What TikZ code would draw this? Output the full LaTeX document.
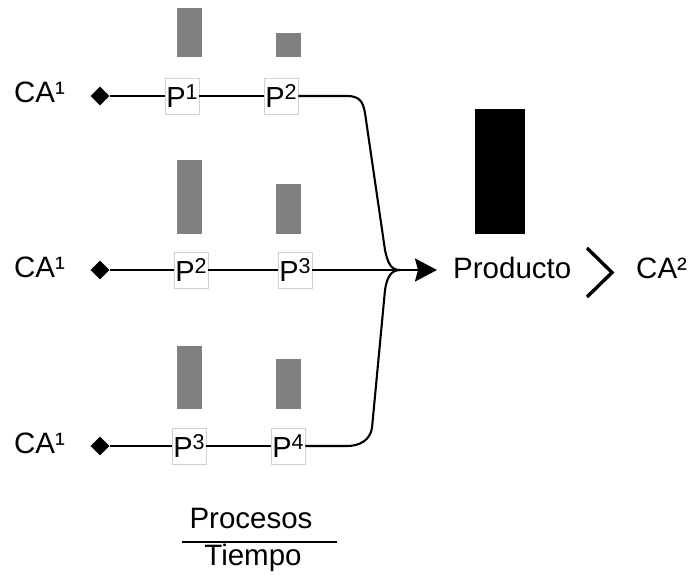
\documentclass[tikz,border=0pt]{standalone}
\usepackage{fontspec}
\setmainfont{Liberation Sans}
\usetikzlibrary{shapes.geometric,arrows.meta}
\newcommand\psup[1]{\raisebox{8.5pt}{\fontsize{21.5}{21.5}\selectfont #1}}
\begin{document}
\begin{tikzpicture}[x=1pt,y=-1pt,
  txt/.style={font=\fontsize{29.5}{34}\selectfont, inner sep=0pt, anchor=base west},
  pbox/.style={draw=black!18, line width=0.6pt, fill=white, minimum width=34pt, minimum height=36pt, inner sep=0pt, font=\fontsize{29}{34}\selectfont},
  dmd/.style={diamond, fill=black, inner sep=0pt, minimum width=19pt, minimum height=19pt},
  ln/.style={line width=2.1pt},
  bar/.style={fill=black!50}]
\useasboundingbox (0,0) rectangle (689,575);

% gray bars
\fill[bar] (177,8) rectangle (202,57);
\fill[bar] (276,33) rectangle (301,57);
\fill[bar] (177,160) rectangle (202,234);
\fill[bar] (276,184) rectangle (301,234);
\fill[bar] (177,346) rectangle (202,409);
\fill[bar] (276,359) rectangle (301,409);
% product bar
\fill[black] (475,109) rectangle (525,234);

% left labels
\node[txt] (ca1) at (14,103) {CA¹};
\node[txt] (ca2) at (14,277) {CA¹};
\node[txt] (ca3) at (14,453) {CA¹};

% diamonds
\node[dmd] (d1) at (100,96) {};
\node[dmd] (d2) at (100,270) {};
\node[dmd] (d3) at (100,446) {};

% process boxes
\node[pbox] (b11) at (182,96) {P\psup{1}};
\node[pbox] (b12) at (281,96) {P\psup{2}};
\node[pbox] (b21) at (191,270) {P\psup{2}};
\node[pbox] (b22) at (295,270) {P\psup{3}};
\node[pbox] (b31) at (189,446) {P\psup{3}};
\node[pbox] (b32) at (288,446) {P\psup{4}};

% right side
\node[txt] (prod) at (453,279) {Producto};
\node[txt] (ca2r) at (636,279) {CA²};
\coordinate (m) at (400,270);
\coordinate (tip) at (437,270);

% connectors
\draw[ln] (d1) -- (b11);
\draw[ln] (b11) -- (b12);
\draw[ln] (d2) -- (b21);
\draw[ln] (b21) -- (b22);
\draw[ln] (d3) -- (b31);
\draw[ln] (b31) -- (b32);
\draw[ln,-{Stealth[length=22pt,width=23pt,inset=3pt]}] (b22) -- (tip);
\draw[ln] (b12) -- (347,96) .. controls (360,96) and (363,102) .. (365,113) -- (385,250) .. controls (388,265) and (392,270) .. (m);
\draw[ln] (b32) -- (347,446) .. controls (360,446) and (370,440) .. (372,428) -- (385,290) .. controls (387,276) and (392,270) .. (m);

% chevron
\draw[line width=3.4pt] (587,248) -- (612,272.5) -- (587,297);

% fraction
\node[txt, anchor=base] (proc) at (251,528) {Procesos};
\node[txt, anchor=base] (tiem) at (253,565) {Tiempo};
\draw[line width=2.1pt] (182,542) -- (337,542);
\end{tikzpicture}
\end{document}
